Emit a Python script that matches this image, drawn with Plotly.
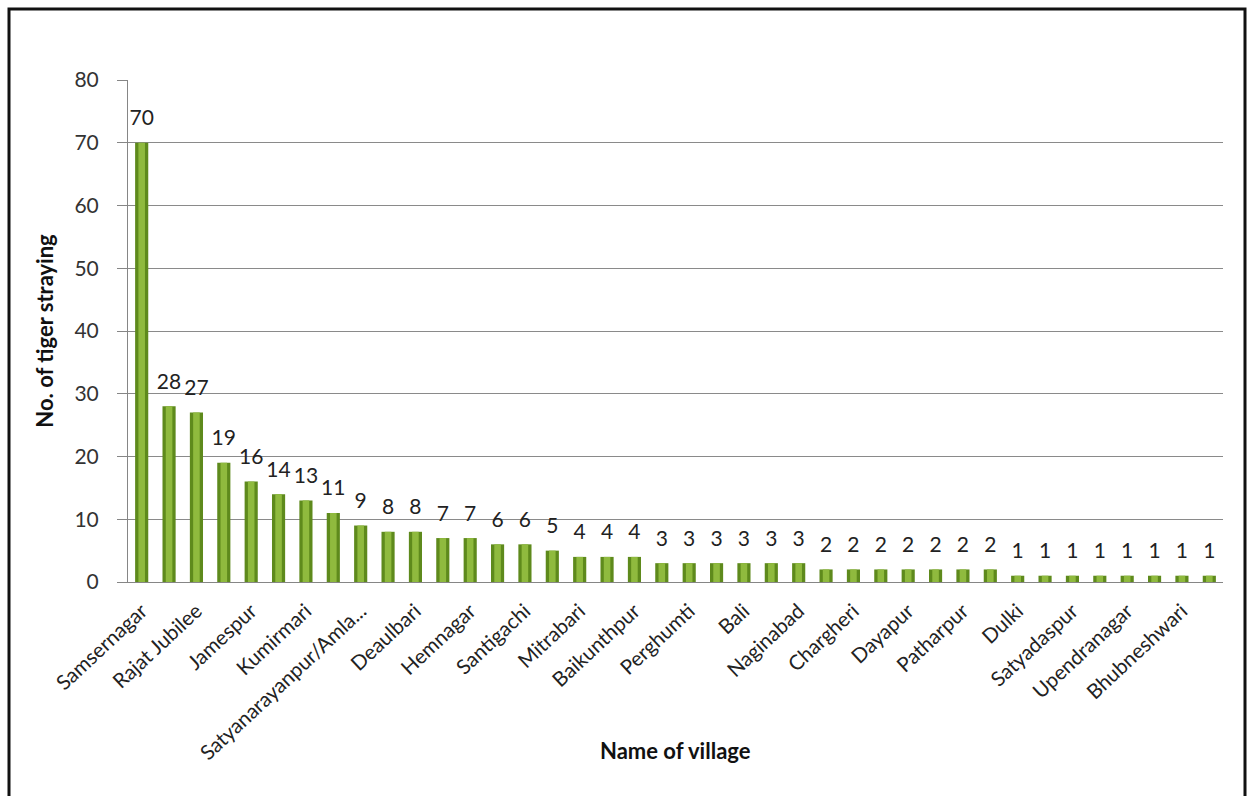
import plotly.graph_objects as go

# Tiger straying incidents per village (every second village is named on the axis)
strays = [70, 28, 27, 19, 16, 14, 13, 11, 9, 8, 8, 7, 7, 6, 6, 5, 4, 4, 4, 3,
          3, 3, 3, 3, 3, 2, 2, 2, 2, 2, 2, 2, 1, 1, 1, 1, 1, 1, 1, 1]
labelled_villages = ["Samsernagar", "Rajat Jubilee", "Jamespur", "Kumirmari",
                     "Satyanarayanpur/Amla...", "Deaulbari", "Hemnagar", "Santigachi",
                     "Mitrabari", "Baikunthpur", "Perghumti", "Bali", "Naginabad",
                     "Chargheri", "Dayapur", "Patharpur", "Dulki", "Satyadaspur",
                     "Upendranagar", "Bhubneshwari"]
y_ticks = [0, 10, 20, 30, 40, 50, 60, 70, 80]

positions = list(range(1, len(strays) + 1))
tick_positions = positions[::2]

W, H = 1251, 796
L, R, T, B = 128, 28, 80, 214
FONT = "Lato"

fig = go.Figure()
# outer (shaded) part of each cylinder-like bar
fig.add_trace(go.Bar(
    x=positions, y=strays, width=0.48,
    marker=dict(color="#5e8a1c", line=dict(width=0)),
    hoverinfo="skip",
))
# lighter highlight down the middle of each bar
fig.add_trace(go.Bar(
    x=positions, y=strays, width=0.24,
    marker=dict(color="#8fba3e", line=dict(width=0)),
    hoverinfo="skip",
))
# value labels sitting above each bar
fig.add_trace(go.Scatter(
    x=positions, y=strays, mode="markers+text",
    marker=dict(size=18, color="rgba(0,0,0,0)"),
    text=[str(v) for v in strays], textposition="top center",
    textfont=dict(family=FONT, size=21, color="#222222"),
    cliponaxis=False, hoverinfo="skip",
))

plot_w = W - L - R
plot_h = H - T - B


def px_x(p):
    return (p - L) / plot_w


def px_y(p):
    return (H - B - p) / plot_h


# black frame around the chart
fig.add_shape(type="rect", xref="paper", yref="paper",
              x0=px_x(9), x1=px_x(1245), y0=px_y(810), y1=px_y(9),
              line=dict(color="#111111", width=3), fillcolor="rgba(0,0,0,0)")

# x-axis title placed beneath the slanted village names
fig.add_annotation(xref="paper", yref="paper", x=0.5, y=px_y(750),
                   text="<b>Name of village</b>", showarrow=False,
                   xanchor="center", yanchor="middle",
                   font=dict(family=FONT, size=22, color="#111111"))

fig.update_layout(
    width=W, height=H,
    margin=dict(l=L, r=R, t=T, b=B, autoexpand=False),
    paper_bgcolor="white", plot_bgcolor="white",
    barmode="overlay", showlegend=False,
    font=dict(family=FONT, color="#222222"),
)
fig.update_xaxes(
    range=[0.5, len(strays) + 0.5],
    tickmode="array", tickvals=tick_positions, ticktext=labelled_villages,
    tickangle=-43, tickfont=dict(family=FONT, size=20.5, color="#222222"),
    ticks="", ticklabelstandoff=8, showgrid=False, zeroline=False,
    showline=True, linecolor="#868686", linewidth=1,
)
fig.update_yaxes(
    range=[0, 80], tickmode="array", tickvals=y_ticks,
    tickfont=dict(family=FONT, size=21, color="#333333"),
    ticks="outside", ticklen=10, tickcolor="#868686", ticklabelstandoff=14,
    showgrid=True, gridcolor="#8a8a8a", gridwidth=1,
    showline=True, linecolor="#868686", linewidth=1, zeroline=False,
    title=dict(text="<b>No. of tiger straying</b>", font=dict(family=FONT, size=22, color="#111111"),
               standoff=14),
)

fig.write_html("out.html")
